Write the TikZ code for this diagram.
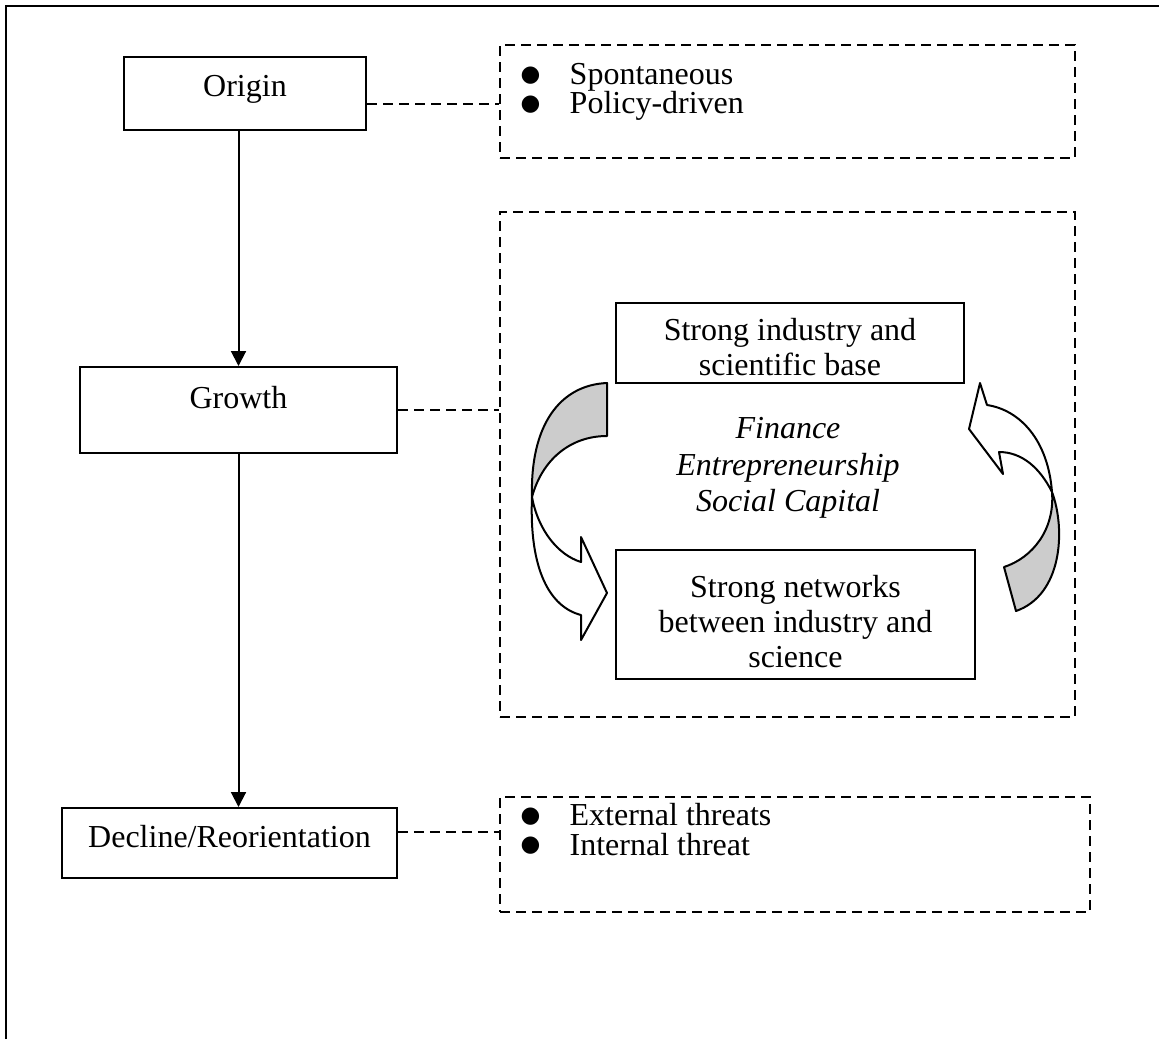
\documentclass[tikz,border=0pt]{standalone}
\usepackage{fontspec}
\setmainfont{Liberation Serif}
\newfontfamily\symfont{DejaVu Sans}
\usetikzlibrary{arrows.meta}
\newcommand{\bul}{\makebox[18.4pt][l]{\raisebox{1.2pt}{\symfont\fontsize{8.5pt}{8.5pt}\selectfont ●}}}

\begin{document}
\begin{tikzpicture}[x=0.375pt,y=-0.375pt,font=\fontsize{12pt}{13.2pt}\selectfont,
  stage/.style={draw,line width=0.75pt,inner sep=2pt,text height=9pt,align=center},
  note/.style={draw,line width=0.75pt,dash pattern=on 3.6pt off 2.4pt},
  link/.style={line width=0.75pt,dash pattern=on 3.6pt off 2.4pt},
  flow/.style={line width=0.75pt,-{Triangle[length=5.6pt,width=5.6pt]}},
  items/.style={anchor=north west,inner sep=0pt,align=left,font=\fontsize{12pt}{11pt}\selectfont},
  twist/.style={line width=0.75pt,line join=round}]
\useasboundingbox (0,0) rectangle (1159,1039);
\draw[line width=1.1pt] (6,1039) -- (6,6) -- (1159,6);
\node[stage,minimum width=90.75pt,minimum height=27.4pt,text depth=6.4pt] (origin) at (245,93.5) {Origin};
\node[stage,minimum width=118.9pt,minimum height=32.25pt,text depth=10.5pt] (growth) at (238.5,410) {Growth};
\node[stage,minimum width=125.6pt,minimum height=26.25pt,text depth=6pt] (decline) at (229.5,843) {Decline/Reorientation};
\node[note,minimum width=215.6pt,minimum height=42.4pt] (box1) at (787.5,101.5) {};
\node[note,minimum width=215.6pt,minimum height=189.4pt] (box2) at (787.5,464.5) {};
\node[note,minimum width=221.25pt,minimum height=43.1pt] (box3) at (795,854.5) {};
\node[items] (causes) at ([xshift=7.9pt,yshift=-7.1pt]box1.north west) {\bul Spontaneous\\\bul Policy-driven};
\node[items] (threats) at ([xshift=7.9pt,yshift=-2.6pt]box3.north west) {\bul External threats\\\bul Internal threat};
\node[stage,inner ysep=0pt,minimum width=130.5pt,minimum height=30pt,text height=26.7pt,text depth=2.3pt] (base) at (790,343) {Strong industry and\\scientific base};
\node[stage,minimum width=134.6pt,minimum height=44.6pt,text height=42.1pt,text depth=2pt] (networks) at (795.5,614.5) {Strong networks\\between industry and\\science};
\node[font=\fontsize{12pt}{13.7pt}\selectfont\itshape,align=center] (drivers) at (788,468) {Finance\\Entrepreneurship\\Social Capital};
\coordinate (o1) at ([yshift=-3.9pt]origin.east);
\coordinate (d1) at ([yshift=4.1pt]decline.east);
\draw[link] (o1) -- (o1 -| box1.west);
\draw[link] (growth.east) -- (growth.east -| box2.west);
\draw[link] (d1) -- (d1 -| box3.west);
\draw[flow] (growth.north |- origin.south) -- (growth.north);
\draw[flow] (growth.south) -- (growth.south |- decline.north);
\filldraw[twist,fill=black!20] (607,383) .. controls (560,385) and (530,425) .. (532,497)
  .. controls (542,460) and (570,436) .. (607,436) -- cycle;
\filldraw[twist,fill=white] (532,497) .. controls (529,570) and (550,607) .. (581,615) -- (581,640)
  -- (607,593) -- (581,537) -- (581,562) .. controls (558,555) and (538,530) .. (532,497) -- cycle;
\filldraw[twist,fill=black!20] (1052,492) .. controls (1066,530) and (1062,595) .. (1016,611)
  -- (1004,567) .. controls (1032,558) and (1055,530) .. (1052,492) -- cycle;
\filldraw[twist,fill=white] (987,405) .. controls (1020,410) and (1048,440) .. (1052,492)
  .. controls (1040,468) and (1022,452) .. (999,452) -- (1003,474) -- (969,429) -- (980,383) -- cycle;
\end{tikzpicture}
\end{document}
